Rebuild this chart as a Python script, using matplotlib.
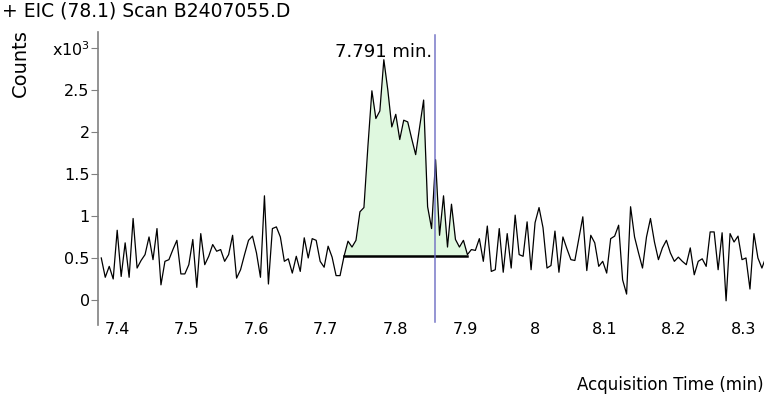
"""EIC (78.1) chromatogram - Scan B2407055.D"""
import matplotlib
matplotlib.use('Agg')
import matplotlib.pyplot as plt
import numpy as np

plt.rcParams['font.family'] = ['DejaVu Sans']

# scan grid (min)
t_start = 7.3774
t_step = 0.005718

# counts (x10^3), one value per scan
counts = [
    0.50, 0.27, 0.40, 0.25, 0.83, 0.28, 0.68, 0.27, 0.97, 0.38,
    0.47, 0.54, 0.75, 0.48, 0.85, 0.18, 0.46, 0.48, 0.60, 0.71,
    0.31, 0.31, 0.42, 0.72, 0.15, 0.79, 0.42, 0.52, 0.66, 0.58,
    0.60, 0.46, 0.54, 0.77, 0.26, 0.36, 0.54, 0.71, 0.76, 0.56,
    0.27, 1.24, 0.19, 0.85, 0.87, 0.75, 0.46, 0.49, 0.32, 0.52,
    0.34, 0.74, 0.50, 0.73, 0.71, 0.46, 0.39, 0.64, 0.51, 0.29,
    0.29, 0.52, 0.70, 0.63, 0.71, 1.05, 1.10, 1.83, 2.49, 2.16,
    2.25, 2.86, 2.50, 2.06, 2.21, 1.91, 2.14, 2.12, 1.92, 1.73,
    2.06, 2.38, 1.11, 0.85, 1.67, 0.77, 1.24, 0.63, 1.14, 0.72,
    0.63, 0.71, 0.54, 0.60, 0.59, 0.73, 0.46, 0.88, 0.34, 0.36,
    0.85, 0.33, 0.79, 0.38, 1.01, 0.54, 0.52, 0.93, 0.36, 0.92,
    1.10, 0.86, 0.38, 0.41, 0.82, 0.33, 0.75, 0.61, 0.48, 0.47,
    0.73, 0.99, 0.35, 0.77, 0.68, 0.40, 0.46, 0.32, 0.73, 0.76,
    0.89, 0.24, 0.07, 1.11, 0.75, 0.56, 0.38, 0.75, 0.97, 0.69,
    0.48, 0.62, 0.71, 0.56, 0.46, 0.51, 0.46, 0.42, 0.62, 0.30,
    0.46, 0.49, 0.40, 0.81, 0.81, 0.36, 0.80, -0.01, 0.79, 0.69,
    0.76, 0.48, 0.50, 0.13, 0.79, 0.50, 0.38, 0.51,
]

# integrated peak: first/last scan index and baseline level
peak_start, peak_end = 61, 92
peak_base = 0.52
peak_label = '7.791 min.'
cursor_time = 7.857

x_ticks = [7.4, 7.5, 7.6, 7.7, 7.8, 7.9, 8.0, 8.1, 8.2, 8.3]
x_tick_labels = ['7.4', '7.5', '7.6', '7.7', '7.8', '7.9', '8', '8.1', '8.2', '8.3']
y_ticks = [0, 0.5, 1, 1.5, 2, 2.5, 3]
y_tick_labels = ['0', '0.5', '1', '1.5', '2', '2.5', 'x10$^3$']

times = t_start + t_step * np.arange(len(counts))
counts = np.array(counts)

fig = plt.figure(figsize=(7.64, 3.99), dpi=100)
ax = fig.add_axes([98 / 764, 1 - 325 / 399, 1 - 98 / 764, (325 - 32) / 399])

# peak fill + baseline
seg = slice(peak_start, peak_end + 1)
ax.fill_between(times[seg], peak_base, counts[seg], color='#dff8df', lw=0, zorder=1)
ax.plot([times[peak_start], times[peak_end]], [peak_base, peak_base],
        color='black', lw=1.8, zorder=3)

ax.plot(times, counts, color='black', lw=0.9, zorder=4)
ax.axvline(cursor_time, ymin=0.01, ymax=0.99, color='#6a6ac2', lw=1.1,
           zorder=5, alpha=0.9)

apex = int(np.argmax(counts))
ax.annotate(peak_label, (times[apex], counts[apex]), xytext=(0, -1),
            textcoords='offset points', ha='center', va='bottom', fontsize=13)

ax.set_xlim(7.3727, 8.3296)
ax.set_ylim(-0.298, 3.19)
ax.set_xticks(x_ticks)
ax.set_xticklabels(x_tick_labels)
ax.set_yticks(y_ticks)
ax.set_yticklabels(y_tick_labels)
ax.tick_params(axis='x', length=0, pad=-2, labelsize=11.5)
ax.tick_params(axis='y', length=5, width=0.8, color='#808080', pad=1, labelsize=11.5)

for s in ['top', 'right', 'bottom']:
    ax.spines[s].set_visible(False)
ax.spines['left'].set_color('#808080')
ax.spines['left'].set_linewidth(1.2)

fig.text(0.002, 1 - 11 / 399, '+ EIC (78.1) Scan B2407055.D', fontsize=13.5,
         ha='left', va='center')
fig.text(20 / 764, 1 - 63 / 399, 'Counts', fontsize=14, rotation=90,
         ha='center', va='center')
fig.text(0.999, 1 - 385 / 399, 'Acquisition Time (min)', fontsize=12,
         ha='right', va='center')

fig.savefig('out.png', dpi=100)
plt.close()
